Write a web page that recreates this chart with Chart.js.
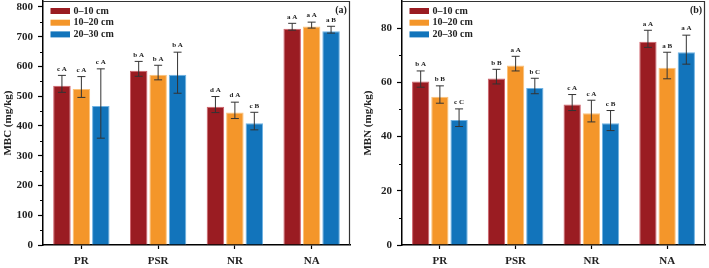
<!DOCTYPE html>
<html>
<head>
<meta charset="utf-8">
<script src="https://cdn.jsdelivr.net/npm/chart.js@4"></script>
<style>
    html, body { margin: 0; padding: 0; background: #fff; }
    .panel { position: absolute; top: 0; height: 268px; }
    #panelA { left: 0; width: 355px; }
    #panelB { left: 360px; width: 349px; }
</style>
</head>
<body>
<div class="panel" id="panelA"><canvas id="mbcChart"></canvas></div>
<div class="panel" id="panelB"><canvas id="mbnChart"></canvas></div>
<script>
const categories = ["PR", "PSR", "NR", "NA"];
const depths = ["0–10 cm", "10–20 cm", "20–30 cm"];
const colors = ["#9a1c22", "#f4962a", "#1274bb"];
const edgeColors = ["#d0606a", "#fbc27a", "#6fb3e4"];

const mbcTicks = [0, 100, 200, 300, 400, 500, 600, 700, 800];
const mbnTicks = [0, 20, 40, 60, 80];

// MBC (mg/kg): mean, upper and lower ends of the error bar
const mbc0_10 = [535, 586, 465, 727];
const mbc0_10Hi = [570, 617, 499, 745];
const mbc0_10Lo = [513, 567, 445, 722];
const mbc10_20 = [524, 572, 445, 734];
const mbc10_20Hi = [566, 604, 480, 749];
const mbc10_20Lo = [496, 555, 425, 729];
const mbc20_30 = [467, 572, 409, 718];
const mbc20_30Hi = [592, 648, 446, 735];
const mbc20_30Lo = [359, 510, 387, 712];
const mbcLetters0_10 = ["c A", "b A", "d A", "a A"];
const mbcLetters10_20 = ["c A", "b A", "d A", "a A"];
const mbcLetters20_30 = ["c A", "b A", "c B", "a B"];

// MBN (mg/kg)
const mbn0_10 = [60.3, 61.4, 51.8, 75.0];
const mbn0_10Hi = [64.2, 64.8, 55.5, 79.2];
const mbn0_10Lo = [58.2, 59.4, 49.6, 72.9];
const mbn10_20 = [54.7, 66.2, 48.6, 65.4];
const mbn10_20Hi = [58.7, 69.6, 53.4, 71.1];
const mbn10_20Lo = [52.3, 64.2, 45.4, 61.3];
const mbn20_30 = [46.1, 57.9, 44.9, 71.1];
const mbn20_30Hi = [50.2, 61.5, 49.6, 77.4];
const mbn20_30Lo = [43.7, 55.8, 42.2, 66.7];
const mbnLetters0_10 = ["b A", "b B", "c A", "a A"];
const mbnLetters10_20 = ["b B", "a A", "c A", "a B"];
const mbnLetters20_30 = ["c C", "b C", "c B", "a A"];

const SERIF = "'Liberation Serif', 'DejaVu Serif', serif";

function makeDatasets(means, his, los, letters) {
    return means.map((data, i) => ({
        label: depths[i],
        data: data,
        hi: his[i],
        lo: los[i],
        letters: letters[i],
        backgroundColor: colors[i],
        borderColor: edgeColors[i],
        borderWidth: 1,
        categoryPercentage: 0.76,
        barPercentage: 0.9,
    }));
}

const errorBars = {
    id: "errorBars",
    afterDatasetsDraw(chart) {
        const ctx = chart.ctx;
        const y = chart.scales.y;
        ctx.save();
        chart.data.datasets.forEach((ds, di) => {
            chart.getDatasetMeta(di).data.forEach((bar, i) => {
                const top = y.getPixelForValue(ds.hi[i]);
                const bottom = y.getPixelForValue(ds.lo[i]);
                ctx.strokeStyle = "#333";
                ctx.lineWidth = 1;
                ctx.beginPath();
                ctx.moveTo(bar.x, top);
                ctx.lineTo(bar.x, bottom);
                ctx.moveTo(bar.x - 4, top);
                ctx.lineTo(bar.x + 4, top);
                ctx.moveTo(bar.x - 4, bottom);
                ctx.lineTo(bar.x + 4, bottom);
                ctx.stroke();
                ctx.fillStyle = "#222";
                ctx.font = "bold 7px " + SERIF;
                ctx.textAlign = "center";
                ctx.textBaseline = "bottom";
                ctx.fillText(ds.letters[i], bar.x, top - 3);
            });
        });
        ctx.restore();
    },
};

const frameAndLegend = {
    id: "frameAndLegend",
    afterDraw(chart, args, opts) {
        const ctx = chart.ctx;
        const area = chart.chartArea;
        const y = chart.scales.y;
        ctx.save();
        // top and right frame
        ctx.strokeStyle = "#333";
        ctx.lineWidth = 1.2;
        ctx.beginPath();
        ctx.moveTo(area.left, area.top + 0.5);
        ctx.lineTo(area.right - 0.5, area.top + 0.5);
        ctx.lineTo(area.right - 0.5, area.bottom);
        ctx.stroke();
        // minor ticks
        ctx.strokeStyle = "#000";
        ctx.lineWidth = 1.2;
        ctx.beginPath();
        for (let v = opts.minor; v < y.max - 1e-6; v += opts.major) {
            const py = Math.round(y.getPixelForValue(v)) + 0.5;
            ctx.moveTo(area.left, py);
            ctx.lineTo(area.left - 3, py);
        }
        ctx.stroke();
        // legend inside the plot
        ctx.font = "bold 10px " + SERIF;
        ctx.textAlign = "left";
        ctx.textBaseline = "middle";
        chart.data.datasets.forEach((ds, i) => {
            const cy = area.top + 10 + i * 11.7;
            ctx.fillStyle = ds.backgroundColor;
            ctx.fillRect(area.left + 7.5, cy - 3, 19.5, 6);
            ctx.fillStyle = "#222";
            ctx.fillText(ds.label, area.left + 30.5, cy);
        });
        // panel tag
        ctx.font = "bold 10px " + SERIF;
        ctx.textAlign = "center";
        ctx.fillText(opts.tag, area.right - 9, area.top + 9);
        ctx.restore();
    },
};

function makeChart(id, datasets, yMax, tickValues, minor, title, tag, yWidth, rightPad) {
    const step = tickValues[1] - tickValues[0];
    return new Chart(document.getElementById(id), {
        type: "bar",
        data: { labels: categories, datasets: datasets },
        options: {
            responsive: true,
            maintainAspectRatio: false,
            animation: { duration: 0 },
            layout: { padding: { top: 1, right: rightPad, left: 0, bottom: 0 } },
            plugins: {
                legend: { display: false },
                tooltip: { enabled: false },
                frameAndLegend: { minor: minor, major: step, tag: tag },
            },
            scales: {
                x: {
                    grid: { display: true, drawOnChartArea: false, offset: false, tickLength: 4, tickColor: "#000", tickWidth: 1.2 },
                    border: { color: "#000", width: 1.5 },
                    ticks: { color: "#222", padding: 6, font: { family: SERIF, size: 11, weight: "bold" } },
                    afterFit: (scale) => {
                        scale.height = 23;
                        scale.paddingLeft = 0;
                        scale.paddingRight = 0;
                    },
                },
                y: {
                    min: 0,
                    max: yMax,
                    bounds: "data",
                    afterBuildTicks: (scale) => {
                        scale.ticks = tickValues.map((v) => ({ value: v }));
                    },
                    grid: { display: true, drawOnChartArea: false, tickLength: 5, tickColor: "#000", tickWidth: 1.2 },
                    border: { color: "#000", width: 1.5 },
                    ticks: { autoSkip: false, color: "#222", padding: 5, font: { family: SERIF, size: 11, weight: "bold" } },
                    title: { display: true, text: title, color: "#222", padding: { top: 1.5, bottom: 0 }, font: { family: SERIF, size: 11, weight: "bold" } },
                    afterFit: (scale) => {
                        scale.width = yWidth;
                        scale.paddingTop = 0;
                        scale.paddingBottom = 0;
                    },
                },
            },
        },
        plugins: [errorBars, frameAndLegend],
    });
}

makeChart("mbcChart",
    makeDatasets([mbc0_10, mbc10_20, mbc20_30], [mbc0_10Hi, mbc10_20Hi, mbc20_30Hi],
        [mbc0_10Lo, mbc10_20Lo, mbc20_30Lo], [mbcLetters0_10, mbcLetters10_20, mbcLetters20_30]),
    820, mbcTicks, 50, "MBC (mg/kg)", "(a)", 43, 5);

makeChart("mbnChart",
    makeDatasets([mbn0_10, mbn10_20, mbn20_30], [mbn0_10Hi, mbn10_20Hi, mbn20_30Hi],
        [mbn0_10Lo, mbn10_20Lo, mbn20_30Lo], [mbnLetters0_10, mbnLetters10_20, mbnLetters20_30]),
    90, mbnTicks, 10, "MBN (mg/kg)", "(b)", 42, 4);
</script>
</body>
</html>
